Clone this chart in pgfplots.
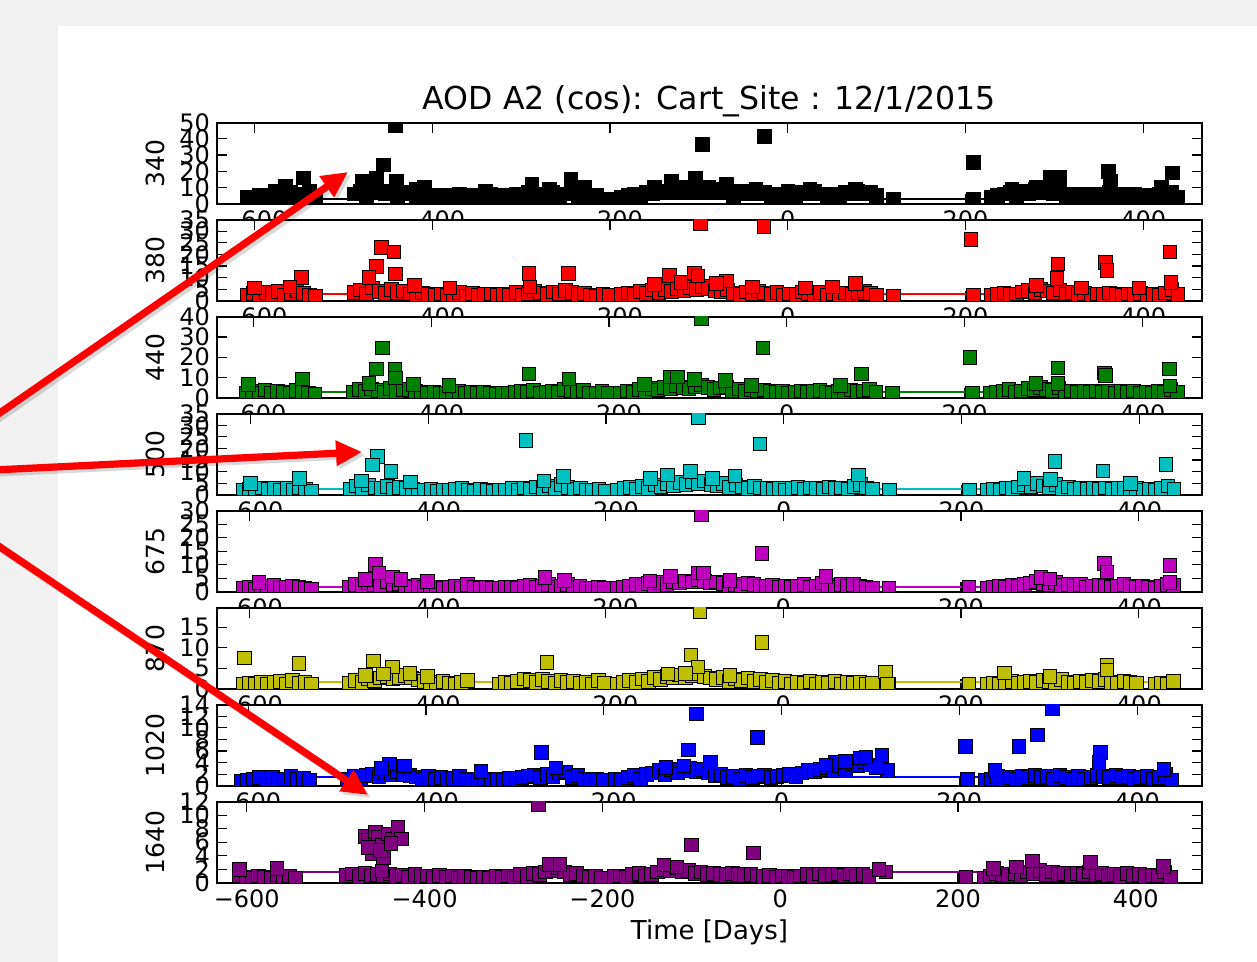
\documentclass[border=0pt]{standalone}
\usepackage{pgfplots}
\pgfplotsset{compat=1.18}
\usepackage{pgfplotstable}
\usepackage{fontspec}
\setmainfont{DejaVu Sans}
\usetikzlibrary{arrows.meta}

\definecolor{mcyan}{rgb}{0,0.75,0.75}
\definecolor{mmag}{rgb}{0.75,0,0.75}
\definecolor{myel}{rgb}{0.75,0.75,0}
\definecolor{mgreen}{rgb}{0,0.5,0}
\definecolor{mpurp}{rgb}{0.5,0,0.5}
\definecolor{bggrey}{HTML}{F1F1F1}

% day  340 380 440 500 675 870 1020 1640
\pgfplotstableread{
x p1 p2 p3 p4 p5 p6 p7 p8
-608 4 2.5 2.2 2.0 1.2 1.0 0.8 1.0
-601 3 3.2 3.0 2.4 1.6 1.4 1.0 0.8
-594 5 2.0 2.0 1.5 1.0 1.2 1.2 0.7
-587 4 3.5 3.8 3.0 2.0 1.6 1.4 1.0
-580 5 2.6 2.4 2.2 1.4 1.0 0.9 0.8
-573 6 4.0 3.2 2.6 2.4 1.5 1.5 0.7
-566 4 2.2 2.6 1.8 1.2 1.8 1.0 1.2
-559 7 3.0 2.0 2.8 1.8 1.2 1.2 0.8
-552 5 4.5 3.5 2.0 2.0 2.0 1.6 1.0
-545 6 3.2 2.8 3.2 1.6 1.4 1.1 0.7
-538 8 2.5 2.2 2.4 1.2 1.6 1.3 nan
-531 4 2.0 1.8 1.6 1.0 1.0 0.9 nan
-488 6 3.5 2.6 2.5 1.8 1.4 1.2 1.1
-481 8 4.6 4.0 3.8 2.6 2.0 1.6 1.3
-474 5 3.0 3.2 2.2 2.0 1.6 1.3 0.9
-467 9 5.5 4.4 4.2 3.2 2.4 1.8 1.4
-460 7 4.0 3.6 3.0 2.6 2.0 2.0 1.0
-453 6 3.2 2.8 2.6 2.2 2.6 1.6 1.2
-446 8 4.8 4.6 3.6 3.8 3.0 2.2 1.0
-439 5 3.6 3.0 2.4 2.8 2.4 1.9 1.3
-432 7 4.2 3.8 3.2 3.0 2.8 2.4 0.9
-425 6 3.0 4.2 2.8 2.2 3.2 2.0 1.1
-418 5 2.6 3.2 2.2 1.8 2.6 1.8 0.8
-411 6 3.4 2.6 2.0 2.4 2.2 1.5 1.2
-404 4 2.8 2.2 1.8 1.6 1.8 1.2 0.9
-397 5 2.2 2.8 2.4 1.4 1.6 1.6 1.0
-390 4 3.0 2.4 1.6 1.8 1.2 1.2 0.7
-383 5 2.4 2.0 2.0 1.4 1.8 1.4 1.1
-376 4 2.8 2.6 1.8 1.6 1.4 1.0 0.8
-369 6 3.6 3.0 2.4 2.2 1.2 1.3 1.0
-362 4 2.0 2.2 2.6 1.2 1.6 1.6 0.7
-355 5 3.2 2.8 2.0 2.6 2.0 1.2 0.9
-348 4 2.4 2.0 1.4 1.8 nan 0.9 0.8
-341 5 2.8 2.6 2.2 1.4 nan 1.1 0.7
-334 6 3.0 2.2 1.8 1.6 nan 1.2 0.8
-327 4 2.2 1.8 1.6 1.2 nan 1.0 0.7
-320 5 2.6 2.4 2.0 1.4 1.2 1.1 0.9
-313 4 2.4 2.2 1.8 1.6 1.6 0.9 0.8
-306 6 3.6 2.8 2.6 1.8 1.4 1.3 1.0
-299 5 2.2 3.2 2.0 1.2 1.8 1.0 0.7
-292 7 3.0 2.6 3.0 2.0 2.4 1.4 1.2
-285 5 4.2 3.6 2.4 2.4 2.0 1.6 0.9
-278 6 3.4 2.4 3.4 1.6 1.6 1.8 1.4
-271 5 2.6 2.8 2.6 2.0 2.2 1.4 1.2
-264 7 3.8 3.2 3.8 2.6 1.8 2.0 1.6
-257 5 3.0 2.6 2.8 1.8 1.4 1.6 1.8
-250 6 4.4 4.0 4.4 2.2 2.0 2.2 2.2
-243 8 3.6 3.4 3.2 2.8 1.6 2.4 1.6
-236 5 2.8 2.8 2.4 1.6 1.8 1.4 1.2
-229 7 3.2 3.6 3.0 2.2 1.4 1.8 1.4
-222 4 2.4 2.4 2.0 1.4 1.6 1.2 1.0
-215 5 2.0 2.0 1.8 1.2 1.2 1.0 0.8
-208 3 2.6 3.2 2.2 1.6 2.0 1.1 0.9
-201 3 2.2 2.4 1.6 1.2 1.4 0.9 0.7
-187 4 2.8 2.2 2.0 1.4 1.2 1.2 0.9
-180 5 3.4 3.4 2.6 1.8 1.6 1.0 1.0
-173 6 2.6 2.8 3.2 2.2 2.0 1.4 0.8
-166 5 4.0 4.2 2.4 2.6 1.6 1.8 1.2
-159 7 3.2 3.0 3.6 2.0 2.4 1.2 1.4
-152 6 4.6 4.6 2.8 3.0 1.8 2.0 1.0
-145 8 3.6 3.8 4.2 2.4 2.8 2.2 1.2
-138 7 5.0 5.0 3.4 3.4 2.2 2.6 1.6
-131 9 4.0 4.4 4.8 2.8 3.0 2.0 2.0
-124 8 5.4 6.0 3.8 3.8 2.6 2.8 1.8
-117 10 4.4 5.2 5.2 3.2 3.4 2.2 2.2
-110 7 5.8 4.6 4.4 4.0 2.8 2.6 1.6
-103 9 4.8 5.6 5.6 3.6 3.2 3.0 1.8
-96 8 6.2 6.4 4.8 4.4 3.6 2.4 1.4
-89 10 5.2 5.0 6.0 3.8 3.0 2.8 1.6
-82 7 4.4 4.2 4.4 3.2 2.6 2.2 1.2
-75 9 3.8 4.8 3.8 3.6 2.2 1.8 1.4
-68 8 4.6 5.4 5.0 3.0 2.8 2.0 1.2
-61 5 3.2 3.6 3.2 2.4 1.8 1.4 1.0
-54 7 2.6 4.4 4.2 2.8 2.4 1.6 1.4
-47 6 3.8 3.2 3.4 2.2 2.0 1.2 1.2
-40 8 3.0 4.0 2.8 3.0 2.6 1.8 1.0
-33 6 4.2 3.4 3.6 2.6 1.8 1.4 1.2
-26 7 3.4 3.8 3.0 2.2 2.2 1.6 1.0
-19 5 2.8 3.0 2.6 2.0 1.6 1.8 0.9
-12 6 3.6 2.6 2.2 2.4 2.0 1.4 1.1
-5 5 2.4 3.2 2.8 1.8 1.4 1.6 0.8
2 6 3.0 2.4 2.0 2.2 1.8 1.8 1.0
9 5 2.6 2.8 2.6 1.6 1.2 2.0 0.9
16 7 3.8 3.4 3.2 2.0 1.6 1.6 0.8
23 6 3.2 2.6 2.4 2.6 1.4 2.2 1.0
30 8 2.8 3.0 3.0 1.8 1.8 2.6 1.2
37 6 3.6 3.6 2.6 2.2 1.2 2.4 0.9
44 5 2.4 2.8 2.2 3.2 1.6 2.8 1.3
51 6 3.0 2.4 3.4 2.4 1.4 3.2 1.0
58 5 2.6 3.2 2.6 1.8 1.8 2.6 1.2
65 7 3.4 2.6 3.0 2.6 1.2 3.4 1.3
72 6 2.8 3.8 2.4 2.0 1.6 3.0 1.1
79 8 3.6 3.0 3.6 2.8 1.4 3.8 1.3
86 6 4.2 3.4 4.4 2.2 1.6 3.4 1.0
93 7 3.2 4.0 3.0 1.8 1.2 4.2 1.2
100 5 2.4 2.6 2.2 1.4 1.4 3.6 0.9
119 3 2.0 2.2 2.0 1.2 1.0 2.6 1.6
209 3 2.2 2.4 2.0 1.6 1.2 1.2 0.8
229 4 2.2 2.0 1.8 1.2 1.0 1.0 0.7
236 5 2.8 2.6 2.4 1.6 1.4 1.2 1.0
243 6 3.4 3.2 2.0 2.2 1.2 1.6 1.4
250 7 2.6 4.0 3.0 1.8 1.6 1.1 1.2
257 5 3.0 2.8 2.6 2.4 1.8 1.4 1.0
264 8 3.8 3.4 3.4 2.0 1.4 1.2 1.3
271 6 4.4 4.6 4.2 2.8 1.6 1.6 1.1
278 9 3.6 3.8 3.6 3.2 1.8 1.4 1.6
285 7 5.0 5.2 4.8 3.8 1.6 1.8 1.4
292 10 4.2 4.2 3.8 3.0 2.0 1.4 1.8
299 6 3.4 3.6 3.2 2.6 1.8 1.6 1.2
306 8 4.6 4.8 4.4 3.4 1.4 1.2 1.6
313 5 3.0 3.0 2.8 2.4 2.2 1.8 1.2
320 6 3.6 3.4 3.4 2.8 1.6 1.4 1.4
327 5 2.8 2.6 2.4 2.0 1.4 1.2 1.0
334 6 3.2 3.0 2.6 2.6 1.8 1.6 1.4
341 5 2.4 2.8 2.2 1.8 1.6 1.2 1.2
348 6 3.0 3.4 2.8 2.2 2.0 1.4 1.6
355 5 2.6 2.6 2.4 2.4 1.8 1.8 1.2
362 7 3.4 3.0 3.0 2.0 2.2 1.6 1.4
369 5 2.8 2.4 2.2 1.6 1.6 1.4 1.0
376 6 2.4 3.2 2.6 2.2 1.4 1.8 1.2
383 5 3.0 2.6 2.8 2.6 1.8 1.4 0.9
390 6 2.6 3.4 2.2 2.0 1.6 1.6 1.4
397 4 3.2 2.2 2.6 1.6 1.4 1.2 1.0
404 5 2.4 2.8 2.0 2.2 nan 1.4 1.2
411 4 2.8 2.4 2.4 1.8 nan 1.6 0.9
418 6 2.2 3.0 1.8 1.4 1.0 1.2 1.1
425 5 3.4 2.6 2.6 2.0 1.4 1.4 1.0
432 7 4.8 4.2 3.8 2.8 1.2 2.0 1.6
439 4 2.6 2.8 2.2 2.4 1.8 1.0 0.8
}\base

\pgfplotsset{
  panel/.style={
    at={(108.5pt,#1)}, anchor=south west,
    scale only axis, width=492.5pt, height=40.5pt,
    xtick={-600,-400,-200,0,200,400},
    xticklabels={−600,−400,−200,0,200,400},
    tick align=inside,
    major tick length=5pt,
    every tick/.style={black, line width=0.6pt},
    axis line style={line width=1pt},
    axis background/.style={fill=white},
    clip marker paths=true,
    tick label style={font=\fontsize{12}{12}\selectfont},
    every axis y label/.style={at={(axis description cs:-0.0624,0.5)}, rotate=90, anchor=center, font=\fontsize{12.5}{13}\selectfont},
  },
  sq/.style={only marks, mark=square*, mark size=3.4pt,
    mark options={draw=black, line width=0.4pt, fill=#1}},
  hl/.style={no markers, line width=1pt, color=#1},
}

\begin{document}
\begin{tikzpicture}
\useasboundingbox (0,0) rectangle (628.5pt,481pt);
\fill[bggrey] (0,0) rectangle (628.5pt,481pt);
\fill[white] (29pt,0) rectangle (628.5pt,468pt);

% ---------- 340 ----------
\begin{axis}[panel=379.15pt, xmin=-642, xmax=466, ymin=0, ymax=50,
  ytick={0,10,20,30,40,50}, yticklabels={0,10,20,30,40,50},
  ylabel={340},
  title={AOD A2 (cos): Cart\_Site : 12/1/2015},
  every axis title/.style={at={(axis description cs:0.5,1.0)}, anchor=base, yshift=6.6pt, font=\fontsize{15.8}{16}\selectfont}]
\addplot[hl=black] coordinates {(-608,3) (440,3)};
\addplot[sq=black] table[x=x,y=p1]{\base};
\addplot[sq=black] coordinates {(-441,48) (-96,36.7) (-26,41.7) (209,25.6) (295,16.5) (306,16.5) (361,20) (363,14) (433,19) (-455,24) (-463,16) (-479,14) (-545,16) (-565,11) (-440,14) (-409,10) (-288,12) (-268,9) (-244,15) (-229,10) (-131,14) (-112,9) (-104,16) (-69,12) (-53,8) (25,9) (76,9) (252,9) (279,10) (420,10) (-576,8) (-418,9) (-150,10) (-36,9) (0,8) (-340,8)};
\end{axis}

% ---------- 380 ----------
\begin{axis}[panel=330.65pt, xmin=-642, xmax=466, ymin=0, ymax=35,
  ytick={0,5,10,15,20,25,30,35}, yticklabels={0,5,10,15,20,25,30,35},
  ylabel={380}]
\addplot[hl=red] coordinates {(-608,3.1) (440,3.1)};
\addplot[sq=red] table[x=x,y=p2]{\base};
\addplot[sq=red] coordinates {(-98,33.5) (-27,32) (206,26.5) (430,21) (-457,23) (-443,21) (-463,14.7) (-441,11.5) (-471,10) (-547,10) (-291,11.8) (-247,11.8) (-133,11) (-105,12) (-101,10.7) (-69,8.5) (76,7.5) (304,15.9) (303,9.6) (357,16.6) (359,13.2) (431,7.8) (-560,6) (-600,5.5) (-420,6.5) (-380,5.5) (-290,6) (-150,7) (-120,8) (-80,7.5) (-40,6) (20,5.5) (50,6) (280,6.5) (330,5.5) (395,5.5)};
\end{axis}

% ---------- 440 ----------
\begin{axis}[panel=282.15pt, xmin=-641, xmax=467, ymin=0, ymax=40,
  ytick={0,10,20,30,40}, yticklabels={0,10,20,30,40},
  ylabel={440}]
\addplot[hl=mgreen] coordinates {(-608,3.0) (440,3.0)};
\addplot[sq=mgreen] table[x=x,y=p3]{\base};
\addplot[sq=mgreen] coordinates {(-96,39) (-27,24.5) (206,19.8) (-455,24.5) (-462,14.3) (-441,14.3) (-440,9.7) (-290,11.8) (84,11.8) (305,14.8) (357,12.3) (358,11) (430,14.3) (-606,6.7) (-545,9.2) (-245,9.2) (-131,10.3) (-123,10.3) (-104,8.9) (-69,8.4) (305,7.2) (431,5.9) (-470,7) (-420,6.5) (-380,6) (-160,6.5) (-40,6) (60,6) (280,7)};
\end{axis}

% ---------- 500 ----------
\begin{axis}[panel=233.65pt, xmin=-637.5, xmax=470.5, ymin=0, ymax=35,
  ytick={0,5,10,15,20,25,30,35}, yticklabels={0,5,10,15,20,25,30,35},
  ylabel={500}]
\addplot[hl=mcyan] coordinates {(-608,2.6) (440,2.6)};
\addplot[sq=mcyan] table[x=x,y=p4]{\base};
\addplot[sq=mcyan] coordinates {(-96,33.5) (-290,23.5) (-27,22) (-457,16.6) (-463,12.9) (-442,10) (305,14.4) (359,10.3) (430,13.2) (-545,7) (-248,7.8) (-105,10) (-55,8.1) (84,8.5) (-131,8.5) (-600,5) (-475,6) (-420,5.5) (-270,6) (-150,7) (-80,7) (270,7) (300,6.5) (390,5)};
\end{axis}

% ---------- 675 ----------
\begin{axis}[panel=185.15pt, xmin=-637, xmax=471, ymin=0, ymax=30,
  ytick={0,5,10,15,20,25,30}, yticklabels={0,5,10,15,20,25,30},
  ylabel={675}]
\addplot[hl=mmag] coordinates {(-608,1.6) (440,1.6)};
\addplot[sq=mmag] table[x=x,y=p5]{\base};
\addplot[sq=mmag] coordinates {(-92,28.5) (-24,14.2) (-459,10.1) (-455,6.9) (361,10.5) (364,7.3) (435,9.8) (-268,5.4) (-246,4.2) (-127,5.7) (-96,6.9) (-90,6.9) (48,5.7) (435,3.5) (-470,4.5) (-440,5.5) (-430,4.5) (-590,3.5) (-150,4) (290,5.2) (300,4.8) (-60,4.2) (-400,3.8)};
\end{axis}

% ---------- 870 ----------
\begin{axis}[panel=136.65pt, xmin=-637, xmax=471, ymin=0, ymax=19.8,
  ytick={0,5,10,15}, yticklabels={0,5,10,15},
  ylabel={870}]
\addplot[hl=myel] coordinates {(-608,1.7) (440,1.7)};
\addplot[sq=myel] table[x=x,y=p6]{\base};
\addplot[sq=myel] coordinates {(-94,18.9) (-24,11.3) (-606,7.5) (-545,6.2) (-461,6.8) (-440,5.3) (-266,6.4) (-104,8.3) (-96,5.3) (115,4.1) (117,1.2) (249,3.9) (364,5.8) (364,4.6) (-450,3.6) (-420,3.8) (-400,3) (-130,3.6) (-110,3.8) (-60,3.2) (300,3) (-470,3.2)};
\end{axis}

% ---------- 1020 ----------
\begin{axis}[panel=88.15pt, xmin=-635, xmax=473, ymin=0, ymax=14,
  ytick={0,2,4,6,8,10,12,14}, yticklabels={0,2,4,6,8,10,12,14},
  ylabel={1020}]
\addplot[hl=blue] coordinates {(-608,1.5) (440,1.5)};
\addplot[sq=blue] table[x=x,y=p7]{\base};
\addplot[sq=blue] coordinates {(-96,12.4) (305,13.4) (-27,8.3) (267,6.8) (288,8.8) (207,6.8) (-105,6.2) (-270,5.8) (359,5.8) (113,5.2) (107,3.1) (-254,3.1) (-441,3.8) (-424,3.4) (-338,2.5) (-80,4) (240,2.6) (357,4) (430,2.8) (60,4) (72,4.2) (88,4.8) (95,5) (50,3.6) (-450,3) (-130,3.2) (-110,3.4)};
\end{axis}

% ---------- 1640 ----------
\begin{axis}[panel=39.65pt, xmin=-633.5, xmax=474.5, ymin=0, ymax=12,
  ytick={0,2,4,6,8,10,12}, yticklabels={0,2,4,6,8,10,12},
  ylabel={1640},
  xlabel={Time [Days]},
  every axis x label/.style={at={(axis description cs:0.5,-0.609)}, anchor=center, font=\fontsize{13}{13}\selectfont}]
\addplot[hl=mpurp] coordinates {(-608,1.6) (440,1.6)};
\addplot[sq=mpurp] table[x=x,y=p8]{\base};
\addplot[sq=mpurp] coordinates {(-272,11.6) (-100,5.6) (-30,4.4) (-467,6.85) (-463,6.25) (-459,4.25) (-455,7.5) (-452,6.75) (-448,5.5) (-446,3.75) (-441,7.25) (-436,6.5) (-430,8.25) (-426,6.5) (-463,5.25) (-448,1.75) (-608,2) (-566,2.1) (-260,2.75) (-248,2.75) (-131,2.65) (-116,2.35) (111,2) (284,3.25) (349,3) (431,2.4) (240,2.1) (266,2.35) (-450,4.8) (-438,5.8)};
\end{axis}

% ---------- annotation arrows ----------
\begin{scope}[line width=3.6pt, -{Triangle[length=13pt,width=12pt]}]
\draw[black, opacity=0.15, shift={(1.5pt,-1.5pt)}] (-3pt,272.5pt) -- (174pt,395pt);
\draw[black, opacity=0.15, shift={(1.5pt,-1.5pt)}] (-3pt,246pt) -- (181pt,255pt);
\draw[black, opacity=0.15, shift={(1.5pt,-1.5pt)}] (-3pt,209.5pt) -- (184pt,83.5pt);
\draw[red] (-3pt,272.5pt) -- (174pt,395pt);
\draw[red] (-3pt,246pt) -- (181pt,255pt);
\draw[red] (-3pt,209.5pt) -- (184pt,83.5pt);
\end{scope}
\end{tikzpicture}
\end{document}
